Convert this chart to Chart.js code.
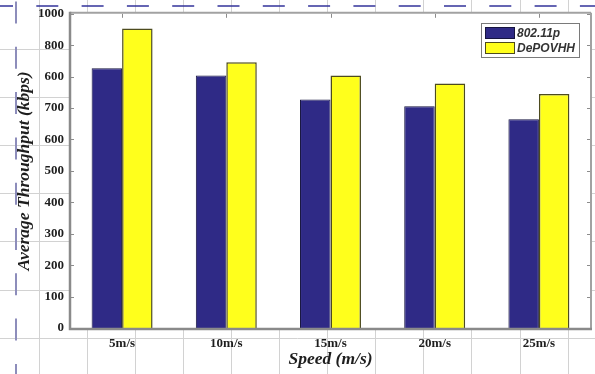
<!DOCTYPE html>
<html>
<head>
<meta charset="utf-8">
<script src="https://cdn.jsdelivr.net/npm/chart.js@4.4.0/dist/chart.umd.min.js"></script>
<style>
  html, body { margin: 0; padding: 0; background: #fff; }
  #wrap { width: 595px; height: 374px; position: relative; }
</style>
</head>
<body>
<div id="wrap"><canvas id="c" width="595" height="374"></canvas></div>
<script>
// Average throughput per vehicle speed, two protocols
const speeds = ['5m/s', '10m/s', '15m/s', '20m/s', '25m/s'];
const throughput80211p = [827, 804, 727, 706, 664];
const throughputDePOVHH = [953, 846, 804, 778, 745];
const seriesNames = ['802.11p', 'DePOVHH'];
const yTickLabels = ['0', '100', '200', '300', '400', '500', '600', '700', '600', '800', '1000'];

const BLUE = '#2f2a86';
const YELLOW = '#ffff1c';
const SERIF = "'Liberation Serif', 'Times New Roman', serif";
const SANS = "'Liberation Sans', Arial, sans-serif";

// Sheet background: light cell grid plus dashed layout guides
const sheetBackground = {
  id: 'sheetBackground',
  beforeDraw(chart) {
    const { ctx, width, height, chartArea: a } = chart;
    ctx.save();
    ctx.fillStyle = '#ffffff';
    ctx.fillRect(0, 0, width, height);
    ctx.strokeStyle = '#d2d2d2';
    ctx.lineWidth = 1;
    ctx.beginPath();
    for (let x = 38.5; x < width; x += 48.1) {
      ctx.moveTo(Math.round(x) + 0.5, 0); ctx.lineTo(Math.round(x) + 0.5, height);
    }
    for (let y = 49; y < height; y += 48.1) {
      ctx.moveTo(0, Math.round(y) + 0.5); ctx.lineTo(width, Math.round(y) + 0.5);
    }
    ctx.stroke();
    // dashed guides
    ctx.setLineDash([22, 23.3]);
    ctx.lineDashOffset = 9;
    ctx.strokeStyle = '#33339a';
    ctx.lineWidth = 1.5;
    ctx.beginPath(); ctx.moveTo(0, 6); ctx.lineTo(width, 6); ctx.stroke();
    ctx.lineDashOffset = -1.5;
    ctx.strokeStyle = '#8d8dbb';
    ctx.lineWidth = 2;
    ctx.beginPath(); ctx.moveTo(16, 0); ctx.lineTo(16, height); ctx.stroke();
    ctx.setLineDash([]);
    // plot background
    ctx.fillStyle = '#ffffff';
    ctx.fillRect(a.left, a.top - 1, a.right - a.left, a.bottom - a.top + 1);
    ctx.restore();
  }
};

// Axes box with inward tick marks
const axesBox = {
  id: 'axesBox',
  afterDatasetsDraw(chart) {
    const { ctx, chartArea: a, scales } = chart;
    const ys = scales.y, xs = scales.x;
    ctx.save();
    ctx.strokeStyle = '#8c8c8c';
    ctx.lineWidth = 1;
    ctx.beginPath();
    ys.ticks.forEach(t => {
      const y = Math.round(ys.getPixelForValue(t.value)) + 0.5;
      ctx.moveTo(a.left, y); ctx.lineTo(a.left + 4, y);
      ctx.moveTo(a.right - 4, y); ctx.lineTo(a.right, y);
    });
    speeds.forEach((s, i) => {
      const x = Math.round(xs.getPixelForValue(i)) + 0.5;
      ctx.moveTo(x, a.top); ctx.lineTo(x, a.top + 4);
    });
    ctx.stroke();
    ctx.strokeStyle = '#a2a2a2';
    ctx.lineWidth = 2;
    ctx.beginPath();
    ctx.moveTo(a.left, a.top - 1); ctx.lineTo(a.right, a.top - 1);
    ctx.moveTo(a.right, a.top - 1); ctx.lineTo(a.right, a.bottom);
    ctx.stroke();
    ctx.strokeStyle = '#8a8a8a';
    ctx.lineWidth = 2.5;
    ctx.beginPath();
    ctx.moveTo(a.left, a.top - 2); ctx.lineTo(a.left, a.bottom + 1);
    ctx.lineTo(a.right + 1, a.bottom + 1);
    ctx.stroke();
    ctx.restore();
  }
};

// Boxed legend in the upper right of the plot
const boxLegend = {
  id: 'boxLegend',
  afterDraw(chart) {
    const { ctx } = chart;
    const x0 = 481, y0 = 23, w = 98, h = 34;
    ctx.save();
    ctx.fillStyle = '#ffffff';
    ctx.fillRect(x0, y0, w, h);
    ctx.strokeStyle = '#7a7a7a';
    ctx.lineWidth = 1;
    ctx.strokeRect(x0 + 0.5, y0 + 0.5, w, h);
    chart.data.datasets.forEach((ds, i) => {
      const sy = y0 + 4 + i * 15;
      ctx.fillStyle = ds.backgroundColor;
      ctx.fillRect(x0 + 4, sy, 30, 12);
      ctx.strokeStyle = ds.borderColor;
      ctx.strokeRect(x0 + 4.5, sy + 0.5, 29, 11);
      ctx.fillStyle = '#333333';
      ctx.font = "italic bold 12px " + SANS;
      ctx.textBaseline = 'middle';
      ctx.textAlign = 'left';
      ctx.fillText(ds.label, x0 + 36, sy + 6.5, 60);
    });
    ctx.restore();
  }
};

new Chart(document.getElementById('c'), {
  type: 'bar',
  data: {
    labels: speeds,
    datasets: [
      { label: seriesNames[0], data: throughput80211p, backgroundColor: BLUE, borderColor: '#16143f', borderWidth: 1 },
      { label: seriesNames[1], data: throughputDePOVHH, backgroundColor: YELLOW, borderColor: '#4d4b1e', borderWidth: 1.5 }
    ]
  },
  options: {
    responsive: false,
    animation: false,
    devicePixelRatio: 1,
    layout: { padding: { top: 12, right: 4, left: 0, bottom: 0 } },
    datasets: { bar: { categoryPercentage: 0.585, barPercentage: 1.0 } },
    plugins: { legend: { display: false }, tooltip: { enabled: false } },
    scales: {
      x: {
        grid: { display: false, drawTicks: false },
        border: { display: false },
        ticks: { color: '#1e1e1e', font: { family: SERIF, size: 13, weight: 'bold' }, padding: 8 },
        title: { display: true, text: 'Speed (m/s)', color: '#1e1e1e', font: { family: SERIF, size: 17.5, weight: 'bold', style: 'italic' }, padding: { top: 0, bottom: 4.5 } },
        afterFit(s) { s.height = 46; }
      },
      y: {
        min: 0, max: 1000,
        grid: { display: false, drawTicks: false },
        border: { display: false },
        ticks: {
          stepSize: 100,
          color: '#1e1e1e',
          font: { family: SERIF, size: 13, weight: 'bold' },
          padding: 6,
          callback: (v, i) => yTickLabels[i]
        },
        title: { display: true, text: 'Average Throughput (kbps)', color: '#1e1e1e', font: { family: SERIF, size: 17.5, weight: 'bold', style: 'italic' }, padding: { top: 13.5, bottom: 0 } },
        afterFit(s) { s.width = 70; }
      }
    }
  },
  plugins: [sheetBackground, axesBox, boxLegend]
});
</script>
</body>
</html>
